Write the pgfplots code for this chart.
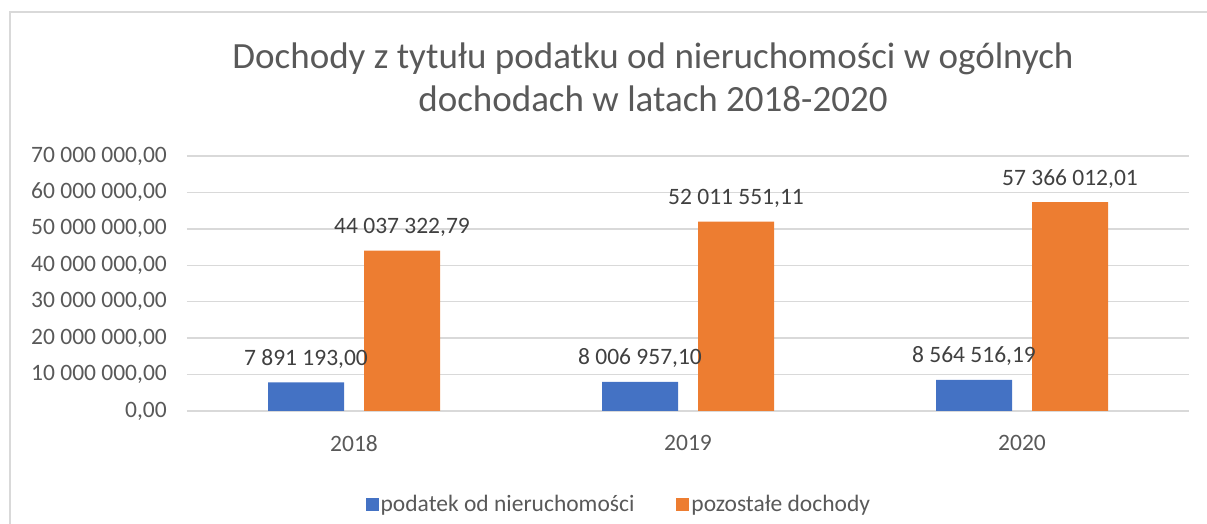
\documentclass[border=0pt]{standalone}
\usepackage{fontspec}
\setmainfont{Carlito}
\usepackage{pgfplots}
\pgfplotsset{compat=1.18}
\definecolor{xblue}{HTML}{4472C4}
\definecolor{xorange}{HTML}{ED7D31}
\definecolor{txt}{HTML}{595959}
\definecolor{lbl}{HTML}{404040}
\definecolor{gridc}{HTML}{D9D9D9}
\begin{document}
\begin{tikzpicture}
\useasboundingbox (0,0) rectangle (1207pt,524pt);
\draw[gridc, line width=2pt] (10pt,0pt) -- (10pt,511.5pt) -- (1207pt,511.5pt);
\node[anchor=base, text=txt, font=\fontsize{37}{44}\selectfont, inner sep=0pt] at (653pt,455pt) {Dochody z tytułu podatku od nieruchomości w ogólnych};
\node[anchor=base, text=txt, font=\fontsize{37}{44}\selectfont, inner sep=0pt] at (653pt,412pt) {dochodach w latach 2018-2020};
\begin{axis}[at={(187pt,113pt)}, anchor=south west, scale only axis,
  width=1002pt, height=255pt,
  ybar=20pt, bar width=76pt,
  xmin=-0.5, xmax=2.5, ymin=0, ymax=70000000,
  xtick={0,1,2}, xticklabels={2018,2019,2020},
  ytick={0,10000000,20000000,30000000,40000000,50000000,60000000,70000000},
  yticklabels={{0,00},{10 000 000,00},{20 000 000,00},{30 000 000,00},{40 000 000,00},{50 000 000,00},{60 000 000,00},{70 000 000,00}},
  scaled y ticks=false,
  ymajorgrids, grid style={gridc, line width=1.5pt},
  axis line style={draw=none}, major tick length=0pt,
  tick label style={font=\fontsize{23.5}{28}\selectfont, text=txt, inner sep=0pt},
  yticklabel style={xshift=-20pt},
  xticklabel style={yshift=-24pt},
  point meta=explicit symbolic,
  nodes near coords,
  every node near coord/.append style={anchor=base, yshift=17pt, font=\fontsize{23.5}{28}\selectfont, text=lbl, inner sep=0pt},
  legend columns=2,
  legend style={at={(0.431,-0.365)}, anchor=center, draw=none, fill=none,
    font=\fontsize{23.5}{28}\selectfont, text=txt,
    /tikz/every even column/.append style={column sep=40pt}},
  legend image code/.code={\fill[#1] (0pt,-6.5pt) rectangle (13pt,6.5pt);},
]
\addplot[fill=xblue, draw=none] coordinates {
  (0,7891193.00) [7 891 193,00]
  (1,8006957.10) [8 006 957,10]
  (2,8564516.19) [8 564 516,19]
};
\addplot[fill=xorange, draw=none] coordinates {
  (0,44037322.79) [44 037 322,79]
  (1,52011551.11) [52 011 551,11]
  (2,57366012.01) [57 366 012,01]
};
\legend{podatek od nieruchomości, pozostałe dochody}
\end{axis}
\end{tikzpicture}
\end{document}
